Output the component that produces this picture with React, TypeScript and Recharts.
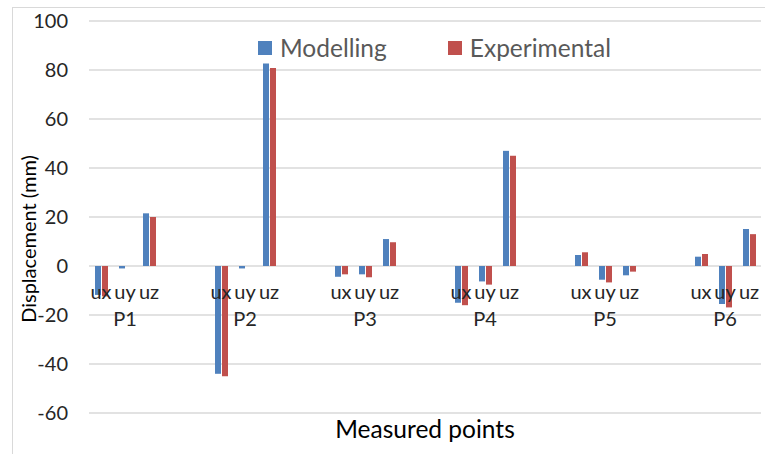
import React from 'react';
import { BarChart, Bar, XAxis, YAxis, CartesianGrid, Legend } from 'recharts';

const points = ['P1', 'P2', 'P3', 'P4', 'P5', 'P6'];
const components = ['ux', 'uy', 'uz'];
const seriesNames = ['Modelling', 'Experimental'];
// values per point, in order ux, uy, uz (mm)
const modelling = [
  [-11.8, -1, 21.5],
  [-44, -1, 82.7],
  [-4.4, -3.4, 11],
  [-15, -6.3, 47],
  [4.5, -5.6, -3.8],
  [3.8, -15.5, 15.1],
];
const experimental = [
  [-12.4, 0, 20],
  [-45, 0, 80.8],
  [-3.4, -4.6, 9.7],
  [-16, -7.6, 45],
  [5.6, -6.7, -2.3],
  [4.9, -16.9, 13],
];
const yTicks = [-60, -40, -20, 0, 20, 40, 60, 80, 100];
const Y_MIN = -60;
const Y_MAX = 100;

const W = 765;
const H = 454;
const TOP = 21;
const X_AXIS_H = 41;
const PLOT_H = H - TOP - X_AXIS_H;
const FONT = 'Lato, "Open Sans", sans-serif';

type Row = { id: string; comp: string; point: string; Modelling: number | null; Experimental: number | null };

// two empty slots between groups, like the blank rows in the sheet
const rows: Row[] = [];
points.forEach((p, pi) => {
  components.forEach((c, ci) => {
    rows.push({
      id: `${p}-${c}`,
      comp: c,
      point: ci === 1 ? p : '',
      Modelling: modelling[pi][ci],
      Experimental: experimental[pi][ci],
    });
  });
  if (pi < points.length - 1) {
    rows.push({ id: `${p}-gap1`, comp: '', point: '', Modelling: null, Experimental: null });
    rows.push({ id: `${p}-gap2`, comp: '', point: '', Modelling: null, Experimental: null });
  }
});

const XTick = (props: any) => {
  const { x, y, index } = props;
  const row = rows[index];
  if (!row || !row.comp) return null;
  const zeroY = y - (PLOT_H * (0 - Y_MIN)) / (Y_MAX - Y_MIN);
  return (
    <g>
      <text x={x} y={zeroY + 33} textAnchor="middle" fontSize={20} fontFamily={FONT} fill="#262626">
        {row.comp}
      </text>
      {row.point && (
        <text x={x} y={zeroY + 60} textAnchor="middle" fontSize={20} fontFamily={FONT} fill="#262626">
          {row.point}
        </text>
      )}
    </g>
  );
};

const LegendContent = (props: any) => {
  const items = [...(props.payload || [])].sort(
    (a: any, b: any) => seriesNames.indexOf(a.value) - seriesNames.indexOf(b.value)
  );
  return (
    <div style={{ display: 'flex', fontFamily: FONT, fontSize: 24.5, color: '#595959', lineHeight: '28px' }}>
      {items.map((e: any, i: number) => (
        <div key={e.value} style={{ display: 'flex', alignItems: 'center', marginRight: i === 0 ? 61 : 0 }}>
          <span style={{ width: 14, height: 14, background: e.color, display: 'inline-block', marginRight: 8 }} />
          <span>{e.value}</span>
        </div>
      ))}
    </div>
  );
};

export default function App() {
  return (
    <div style={{ position: 'fixed', left: 0, top: 0, width: W, height: H, overflow: 'hidden', background: '#fff' }}>
      <div
        style={{
          position: 'absolute',
          left: 12,
          top: 7,
          width: 800,
          height: 500,
          border: '1px solid #d9d9d9',
        }}
      />
      <div style={{ position: 'absolute', left: 0, top: 0 }}>
        <BarChart
          width={W}
          height={H}
          data={rows}
          margin={{ top: TOP, right: 4, bottom: 0, left: 0 }}
          barSize={6}
          barGap={1}
        >
          <CartesianGrid vertical={false} stroke="#d9d9d9" strokeWidth={1.5} />
          <XAxis
            dataKey="id"
            height={X_AXIS_H}
            axisLine={false}
            tickLine={false}
            tickSize={0}
            tickMargin={0}
            interval={0}
            tick={<XTick />}
            label={{
              content: (p: any) => {
                const vb = p.viewBox;
                return (
                  <text x={vb.x + vb.width / 2} y={vb.y + 25} textAnchor="middle" fontSize={24.5} fontFamily={FONT} fill="#000">
                    Measured points
                  </text>
                );
              },
            }}
          />
          <YAxis
            width={89}
            domain={[Y_MIN, Y_MAX]}
            ticks={yTicks}
            axisLine={false}
            tickLine={false}
            tickSize={0}
            tickMargin={21}
            tick={{ fontSize: 20, fontFamily: FONT, fill: '#262626' }}
            label={{
              content: (p: any) => {
                const vb = p.viewBox;
                const cx = 36;
                const cy = vb.y + vb.height / 2 + 22;
                return (
                  <text
                    x={cx}
                    y={cy}
                    textAnchor="middle"
                    transform={`rotate(-90 ${cx} ${cy})`}
                    fontSize={20}
                    fontFamily={FONT}
                    fill="#000"
                  >
                    Displacement (mm)
                  </text>
                );
              },
            }}
          />
          <Legend
            verticalAlign="middle"
            layout="horizontal"
            content={<LegendContent />}
            wrapperStyle={{ top: 34, left: 258, width: 'auto' }}
          />
          <Bar dataKey="Modelling" fill="#4f81bd" isAnimationActive={false} />
          <Bar dataKey="Experimental" fill="#c0504d" isAnimationActive={false} />
        </BarChart>
      </div>
    </div>
  );
}
